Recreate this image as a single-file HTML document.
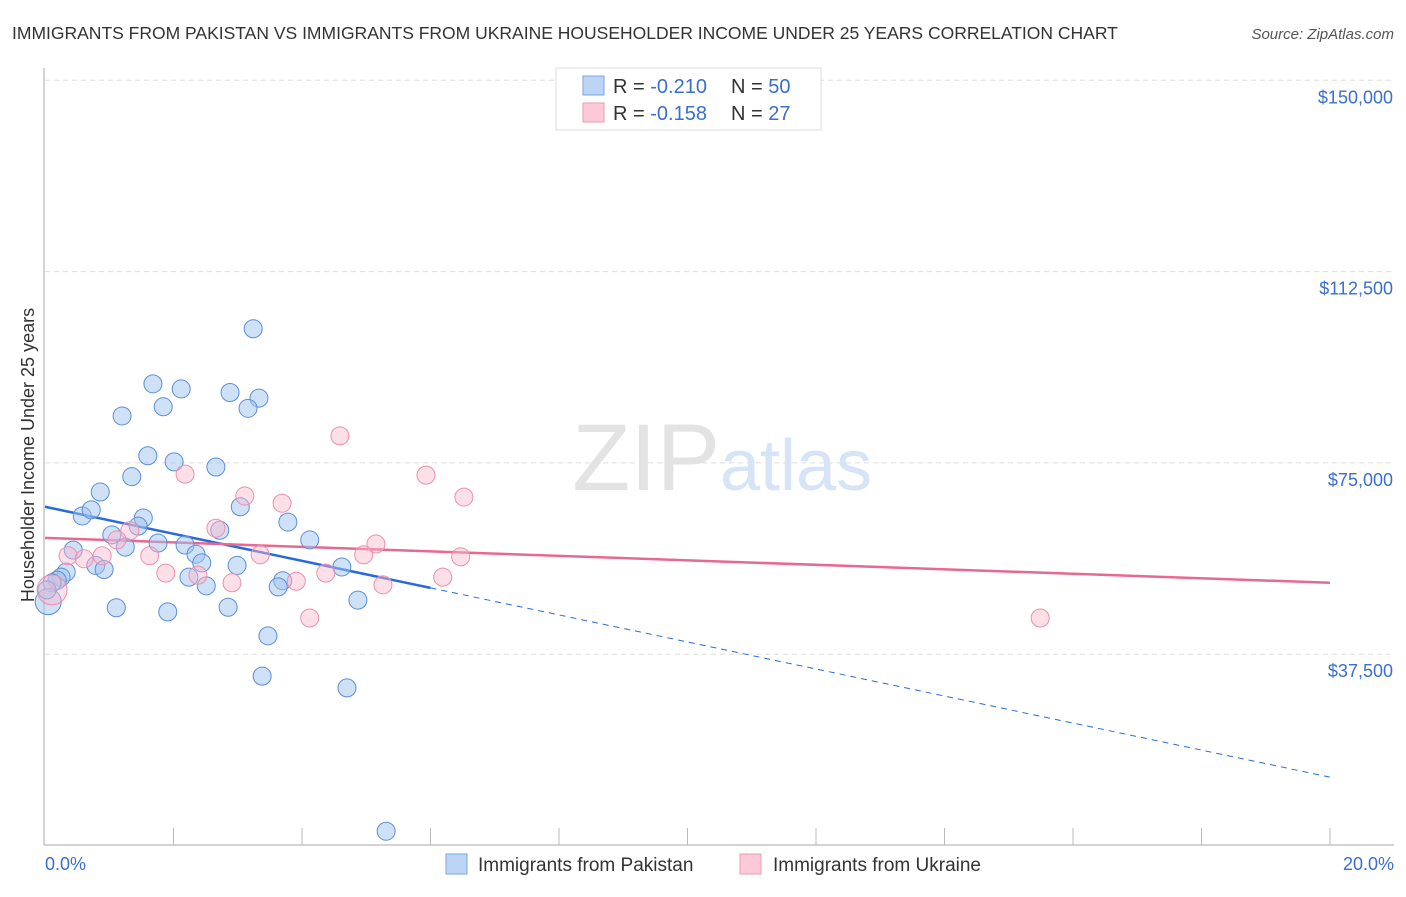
<!DOCTYPE html>
<html><head><meta charset="utf-8"><style>
body{margin:0;background:#fff;font-family:"Liberation Sans",sans-serif}
svg text{font-family:"Liberation Sans",sans-serif}
</style></head><body>
<svg id="chart" width="1406" height="892" xmlns="http://www.w3.org/2000/svg">
<text x="12" y="39" font-size="17.5" fill="#333">IMMIGRANTS FROM PAKISTAN VS IMMIGRANTS FROM UKRAINE HOUSEHOLDER INCOME UNDER 25 YEARS CORRELATION CHART</text>
<text x="1394" y="39" font-size="15" fill="#555" font-style="italic" text-anchor="end">Source: ZipAtlas.com</text>
<g id="grid"></g>
<text x="720" y="490" font-size="95" fill="#e3e3e3" font-family="Liberation Serif" text-anchor="end">ZIP</text>
<text x="720" y="490" font-size="72" fill="#d6e4f5">atlas</text>
<g id="lines"></g>
<g id="pts"></g>
<text transform="translate(34,455) rotate(-90)" font-size="18" fill="#333" text-anchor="middle">Householder Income Under 25 years</text>
<text x="45" y="870" font-size="18" fill="#3a6fd0">0.0%</text>
<text x="1394" y="870" font-size="18" fill="#3a6fd0" text-anchor="end">20.0%</text>
<g>
<rect x="556" y="68" width="265" height="62" fill="#fff" stroke="#ddd"/>
<rect x="583" y="76" width="21" height="19" fill="#bcd5f5" stroke="#7aa6e0"/>
<rect x="583" y="103" width="21" height="19" fill="#fcc9d8" stroke="#ec9ab2"/>
<text x="613" y="93" font-size="20" fill="#333">R = <tspan fill="#3a6fd0">-0.210</tspan><tspan x="731">N = </tspan><tspan fill="#3a6fd0">50</tspan></text>
<text x="613" y="120" font-size="20" fill="#333">R = <tspan fill="#3a6fd0"> -0.158</tspan><tspan x="731">N = </tspan><tspan fill="#3a6fd0"> 27</tspan></text>
</g>
<g><rect x="446" y="854" width="21" height="20" fill="#bcd5f5" stroke="#7aa6e0"/><text x="478" y="871" font-size="19" fill="#333">Immigrants from Pakistan</text></g>
<g><rect x="740" y="854" width="21" height="20" fill="#fcc9d8" stroke="#ec9ab2"/><text x="773" y="871" font-size="19" fill="#333">Immigrants from Ukraine</text></g>
</svg>
<script>
const yTicks=[37.5,75,112.5,150];
const yTickLabels=["$37,500","$75,000","$112,500","$150,000"];
const pakX=[3.24,1.68,2.12,2.88,3.33,1.84,3.16,1.20,1.60,2.01,2.66,1.35,0.86,3.04,0.58,0.72,1.53,3.78,1.45,2.72,1.04,4.12,1.25,1.76,2.18,2.35,0.44,0.79,0.92,2.44,2.99,4.62,0.33,0.25,0.19,2.24,3.70,3.63,2.51,0.11,0.05,1.11,1.91,2.85,4.87,3.47,3.38,4.70,5.31,0.03];
const pakY=[101.3,90.5,89.5,88.8,87.7,86.0,85.7,84.2,76.4,75.2,74.2,72.3,69.3,66.4,64.6,65.8,64.2,63.4,62.6,61.8,60.9,59.9,58.5,59.3,58.9,57.1,57.9,54.9,54.1,55.4,54.9,54.6,53.6,52.6,52.0,52.6,51.9,50.7,50.9,51.5,47.8,46.6,45.8,46.7,48.1,41.1,33.2,30.9,2.8,50.1];
const ukrX=[4.59,5.93,6.52,2.18,3.11,3.69,2.66,1.32,1.12,0.89,0.36,1.63,5.15,4.96,6.47,3.35,0.61,1.88,2.38,4.37,2.91,3.91,5.26,6.19,4.12,15.49,0.11];
const ukrY=[80.3,72.6,68.3,72.8,68.5,67.1,62.2,61.7,59.9,56.8,56.8,56.8,59.1,57.0,56.6,57.0,56.2,53.4,53.0,53.4,51.5,51.8,51.1,52.6,44.6,44.6,50.1];
const pakTrend=[66.4,13.4], pakSolidEnd=6.0;
const ukrTrend=[60.3,51.5];
const NS="http://www.w3.org/2000/svg";
const sx=v=>45+v/20*1285, sy=v=>845.5-v/37.5*191.3;
function mk(t,a,p){const e=document.createElementNS(NS,t);for(const k in a)e.setAttribute(k,a[k]);document.getElementById(p).appendChild(e);return e;}
yTicks.forEach((t,i)=>{
 const l=mk('line',{x1:45,x2:1394,y1:sy(t),y2:sy(t),stroke:'#ddd','stroke-dasharray':'5,4'},'grid');
 
 
 const tx=mk('text',{x:1393,y:sy(t)+23,'font-size':18,fill:'#3a6fd0','text-anchor':'end'},'grid');tx.textContent=yTickLabels[i];
 
 
});
const ax=mk('line',{x1:44,x2:44,y1:68,y2:845,stroke:'#aaa'},'grid');


const bx=mk('line',{x1:44,x2:1394,y1:845,y2:845,stroke:'#aaa'},'grid');


for(let i=1;i<=10;i++){const t=mk('line',{x1:sx(i*2),x2:sx(i*2),y1:828,y2:845,stroke:'#bbb'},'grid');
 
 }
const f=(tr,x)=>tr[0]+(tr[1]-tr[0])*x/20;
const pl=mk('line',{x1:sx(0),y1:sy(f(pakTrend,0)),x2:sx(pakSolidEnd),y2:sy(f(pakTrend,pakSolidEnd)),stroke:'#2a6ad8','stroke-width':2.5},'lines');


const pd=mk('line',{x1:sx(pakSolidEnd),y1:sy(f(pakTrend,pakSolidEnd)),x2:sx(20),y2:sy(f(pakTrend,20)),stroke:'#2a6ad8','stroke-width':1,'stroke-dasharray':'6,5'},'lines');


const ul=mk('line',{x1:sx(0),y1:sy(f(ukrTrend,0)),x2:sx(20),y2:sy(f(ukrTrend,20)),stroke:'#e8688f','stroke-width':2.5},'lines');


pakX.forEach((x,i)=>{const c=mk('circle',{cx:sx(x),cy:sy(pakY[i]),r:i==40?13:9,fill:'rgba(160,196,240,0.5)',stroke:'#5b8fd8','stroke-width':1},'pts');
 
 });
ukrX.forEach((x,i)=>{const c=mk('circle',{cx:sx(x),cy:sy(ukrY[i]),r:i==26?15:9,fill:'rgba(250,185,205,0.45)',stroke:'#ec8fac','stroke-width':1},'pts');
 
 });
</script>
</body></html>
